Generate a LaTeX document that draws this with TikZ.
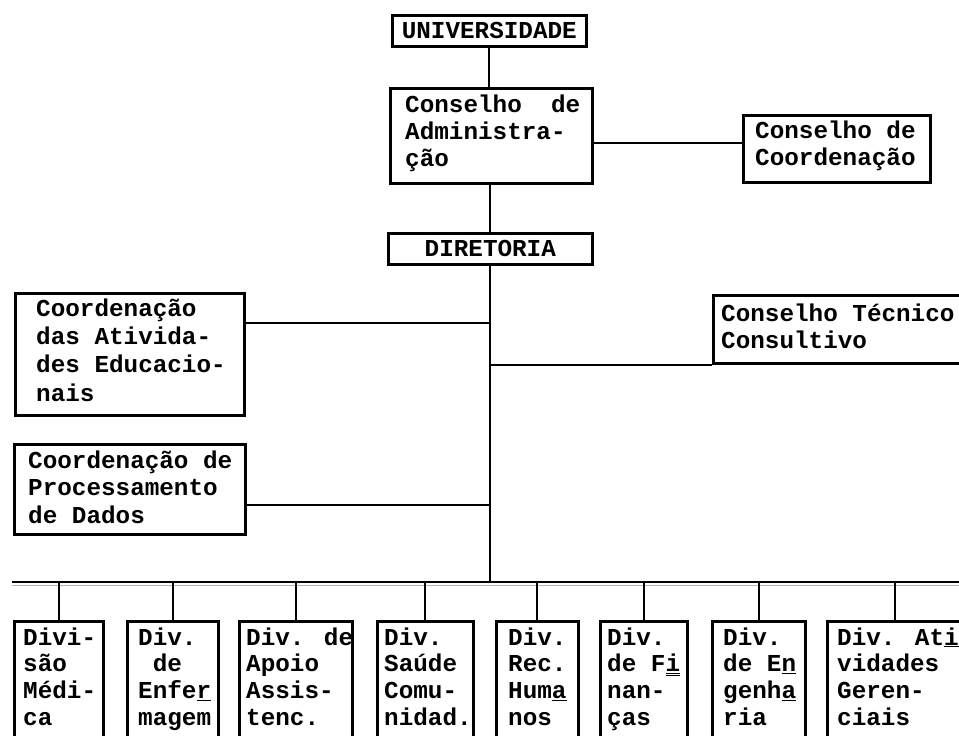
\documentclass[tikz,border=0pt]{standalone}
\usepackage{fontspec}
\newfontfamily\mono{Liberation Mono}
\usetikzlibrary{calc}
\newcommand\fl{\rule{0pt}{22pt}}
\begin{document}
\begin{tikzpicture}[x=1pt,y=-1pt,
  box/.style={draw, line width=2.6pt, inner sep=0pt, anchor=north west},
  conn/.style={line width=2.2pt},
  txt/.style={font=\mono\bfseries\fontsize{24.3}{27}\selectfont, align=left, inner sep=0pt, anchor=north west},
  btxt/.style={txt, font=\mono\bfseries\fontsize{24.3}{26.7}\selectfont},
  lbl/.style={font=\mono\bfseries\fontsize{24.3}{27}\selectfont}]
\useasboundingbox (0,0) rectangle (959,736);
\clip (0,0) rectangle (959,736);
% top chain
\node[box, minimum width=194pt, minimum height=31pt, lbl] (univ) at (391,14) {UNIVERSIDADE};
\node[box, minimum width=202pt, minimum height=95pt] (admin) at (389,87) {};
\node[txt] (admintxt) at (405,90) {\fl Conselho\ \ de\\Administra-\\ção};
\node[box, minimum width=187pt, minimum height=67pt] (coord) at (742,114) {};
\node[txt] (coordtxt) at (755,116) {\fl Conselho de\\Coordenação};
\node[box, minimum width=204pt, minimum height=31pt, lbl] (dir) at (387,232) {DIRETORIA};
% left and right staff boxes
\node[box, minimum width=229pt, minimum height=122pt] (ativ) at (14,292) {};
\node[txt, font=\mono\bfseries\fontsize{24.3}{28.3}\selectfont] (ativtxt) at (36,294) {\fl Coordenação\\das Ativida-\\des Educacio-\\nais};
\node[box, minimum width=231pt, minimum height=90pt] (proc) at (13,443) {};
\node[txt, font=\mono\bfseries\fontsize{24.3}{27.5}\selectfont] (proctxt) at (28,446) {\fl Coordenação de\\Processamento\\de Dados};
\node[box, minimum width=260pt, minimum height=68pt] (tec) at (712,294) {};
\node[txt] (tectxt) at (721,299) {\fl Conselho Técnico\\Consultivo};
% connectors top
\draw[conn] (univ.south) -- (univ.south |- admin.north);
\coordinate (ac) at ($(admin.north east)+(0,56)$);
\draw[conn] (ac) -- (ac -| coord.west);
\draw[conn] (admin.south -| dir.north) -- (dir.north);
% bus
\coordinate (busL) at (12,582);
\coordinate (busR) at (959,582);
\draw[conn] (dir.south) -- (dir.south |- busL);
\coordinate (a1) at ($(ativ.north east)+(0,31)$);
\draw[conn] (a1) -- (a1 -| dir.south);
\coordinate (p1) at ($(proc.north east)+(0,62)$);
\draw[conn] (p1) -- (p1 -| dir.south);
\draw[conn] (tec.south west -| dir.south) -- (tec.south west);
\draw[line width=2.6pt] (busL) -- (busR);
\draw[line width=1.3pt, black!30] ($(busL)+(0,3.6)$) -- ($(busR)+(0,3.6)$);
% divisions
\node[box, minimum width=89pt, minimum height=150pt] (d1) at (13,620) {};
\node[box, minimum width=91pt, minimum height=150pt] (d2) at (126,620) {};
\node[box, minimum width=113pt, minimum height=150pt] (d3) at (238,620) {};
\node[box, minimum width=96pt, minimum height=150pt] (d4) at (376,620) {};
\node[box, minimum width=82pt, minimum height=150pt] (d5) at (495,620) {};
\node[box, minimum width=87pt, minimum height=150pt] (d6) at (599,620) {};
\node[box, minimum width=93pt, minimum height=150pt] (d7) at (711,620) {};
\node[box, minimum width=136pt, minimum height=150pt] (d8) at (826,620) {};
\foreach \d in {d1,d2,d3,d4,d5,d6,d7,d8}
  \draw[conn] (\d.north |- busL) -- (\d.north);
\node[btxt] (t1) at (23,623) {\fl Divi-\\são\\Médi-\\ca};
\node[btxt] (t2) at (138,623) {\fl Div.\\\hphantom{D}de\\Enfe\underline{r}\\magem};
\node[btxt] (t3) at (246,623) {\fl Div. de\\Apoio\\Assis-\\tenc.};
\node[btxt] (t4) at (384,623) {\fl Div.\\Saúde\\Comu-\\nidad.};
\node[btxt] (t5) at (508,623) {\fl Div.\\Rec.\\Hum\underline{a}\\nos};
\node[btxt] (t6) at (607,623) {\fl Div.\\de F\underline{\underline{i}}\\nan-\\ças};
\node[btxt] (t7) at (723,623) {\fl Div.\\de E\underline{n}\\genh\underline{a}\\ria};
\node[btxt] (t8) at (837,623) {\fl Div. At\underline{i}\\vidades\\Geren-\\ciais};
\end{tikzpicture}
\end{document}
